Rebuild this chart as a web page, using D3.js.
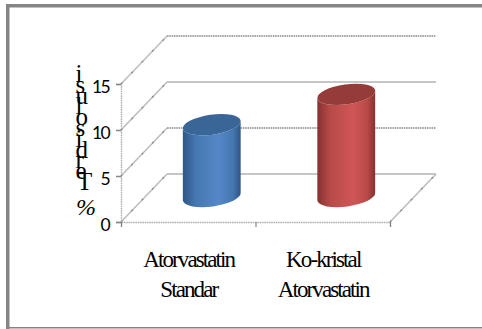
<!DOCTYPE html>
<html>
<head>
<meta charset="utf-8">
<script src="https://cdn.jsdelivr.net/npm/d3@7/dist/d3.min.js"></script>
<style>
html, body { margin: 0; padding: 0; background: #fff; }
svg { display: block; }
.serif { font-family: "Liberation Serif", serif; fill: #000; }
</style>
</head>
<body>
<svg id="chart" width="482" height="329"></svg>
<script>
// Dissolution chart: two 3D cylinders standing on a sheared floor
const categories = [["Atorvastatin", "Standar"], ["Ko-kristal", "Atorvastatin"]];
const seriesValues = [7.8, 11.1];
const seriesFill = [
  { edge: "#2f5687", mid: "#4577b0", peak: "#5588c8", top: "#3a6597" },
  { edge: "#833230", mid: "#b84a48", peak: "#cf5656", top: "#953c3a" }
];
const yTicks = [0, 5, 10, 15];
const titlePrefix = "%";
const titleLetters = "Terdisolusi".split("");

const svg = d3.select("#chart");
const W = 482, H = 329;

// Plot box and depth of the sheared walls
const left = 121, right = 390, bottom = 222, top15 = 84;
const depthX = 46, depthY = 48;

const y = d3.scaleLinear().domain([0, 15]).range([bottom, top15]);
const x = d3.scaleBand().domain(d3.range(categories.length)).range([left, right]);
const edgeScale = d3.scaleLinear().domain([0, categories.length]).range([left, right]);

// Outer frame: heavy top and left edges, thin bottom edge, open on the right
svg.append("rect").attr("x", 6).attr("y", 4).attr("width", W - 6).attr("height", 3.5).attr("fill", "#858585");
svg.append("rect").attr("x", 6).attr("y", 4).attr("width", 3.5).attr("height", H - 4).attr("fill", "#858585");
svg.append("rect").attr("x", 6).attr("y", 327).attr("width", W - 6).attr("height", 1.5).attr("fill", "#858585");

// Grid: diagonal on the side wall, horizontal on the back wall
const grid = svg.append("g").attr("fill", "none");
const diagonal = (x0, y0) => {
  grid.append("path")
    .attr("d", d3.line()([[x0, y0], [x0 + depthX, y0 - depthY]]))
    .attr("stroke", "#bcbcbc").attr("stroke-width", 1.5);
  grid.append("path")
    .attr("d", d3.line()([[x0, y0], [x0 + depthX, y0 - depthY]]))
    .attr("stroke", "#8f8f8f").attr("stroke-width", 1.5).attr("stroke-dasharray", "2 13");
};
yTicks.forEach(t => {
  const solid = t % 10 === 0;
  const backY = y(t) - depthY;
  diagonal(left, y(t));
  grid.append("path")
    .attr("d", d3.line()([[left + depthX, backY], [right + depthX, backY]]))
    .attr("stroke", solid ? "#8e8e8e" : "#a8a8a8")
    .attr("stroke-width", solid ? 1.2 : 2)
    .attr("stroke-dasharray", solid ? null : "1.6 0.7");
});
// Right edge of the floor
diagonal(right, bottom);

// Cylinders
const defs = svg.append("defs");
seriesFill.forEach((c, i) => {
  const g = defs.append("linearGradient").attr("id", "body" + i);
  [[0, c.edge], [0.22, c.mid], [0.62, c.peak], [0.86, c.mid], [1, c.edge]].forEach(([o, col]) =>
    g.append("stop").attr("offset", o).attr("stop-color", col));
});

const rx = 29.2, ry = 10, tilt = -8;
const tiltDx = rx * Math.cos(tilt * Math.PI / 180);
const tiltDy = rx * Math.sin(tilt * Math.PI / 180);
const baseY = y(0) - depthY / 2 - 1.5;

seriesValues.forEach((v, i) => {
  const cx = x(i) + x.bandwidth() / 2 + depthX / 2 + 0.5;
  const topY = baseY - (y(0) - y(v));
  const arc = (sweep, px, py) => `A${rx},${ry} ${tilt} 0 ${sweep} ${px},${py}`;
  const lx = cx - tiltDx, rxPos = cx + tiltDx;
  const body = [
    `M${lx},${topY - tiltDy}`,
    `L${lx},${baseY - tiltDy}`,
    arc(0, rxPos, baseY + tiltDy),
    `L${rxPos},${topY + tiltDy}`,
    arc(1, lx, topY - tiltDy),
    "Z"
  ].join("");
  svg.append("path").attr("d", body).attr("fill", `url(#body${i})`);
  svg.append("ellipse")
    .attr("rx", rx).attr("ry", ry)
    .attr("transform", `translate(${cx},${topY}) rotate(${tilt})`)
    .attr("fill", seriesFill[i].top);
});

// Value axis
const yAxis = svg.append("g")
  .attr("transform", `translate(${left},0)`)
  .call(d3.axisLeft(y).tickValues(yTicks).tickSize(5).tickPadding(7));
yAxis.select(".domain").attr("stroke", "#b0b0b0").attr("stroke-width", 1.4).attr("stroke-dasharray", "1.6 0.7");
yAxis.selectAll(".tick line").attr("stroke", "#868686").attr("stroke-width", 1.5);
yAxis.selectAll(".tick text")
  .attr("font-family", 'Lato, sans-serif').attr("font-size", 17.5)
  .attr("letter-spacing", -1.6).attr("fill", "#000")
  .attr("dy", "0.36em").attr("y", 2.5);

// Category axis: ticks sit on the band edges
const xAxis = svg.append("g")
  .attr("transform", `translate(0,${bottom})`)
  .call(d3.axisBottom(edgeScale).tickValues(d3.range(categories.length + 1)).tickSize(5).tickFormat(""));
xAxis.select(".domain").attr("stroke", "#b0b0b0").attr("stroke-width", 1.4).attr("stroke-dasharray", "1.6 0.7");
xAxis.selectAll(".tick line").attr("stroke", "#868686").attr("stroke-width", 1.2);

// Two-line category labels
categories.forEach((lines, i) => {
  const t = svg.append("text").attr("class", "serif")
    .attr("text-anchor", "middle").attr("font-size", 23).attr("letter-spacing", -1.9);
  lines.forEach((s, k) => {
    t.append("tspan")
      .attr("x", x(i) + x.bandwidth() / 2 + 0.5)
      .attr("y", 267 + k * 30)
      .text(s);
  });
});

// Axis title: upright glyphs stacked bottom to top
const titleY = d3.scalePoint().domain(d3.range(titleLetters.length)).range([190, 82]);
svg.append("g").attr("class", "serif").attr("font-size", 25)
  .selectAll("text").data(titleLetters).join("text")
  .attr("x", d => d === "T" ? 77 : 75.5)
  .attr("y", (d, i) => titleY(i))
  .text(d => d);
svg.append("text").attr("class", "serif")
  .attr("x", 76).attr("y", 215).attr("font-size", 24).attr("font-style", "italic")
  .text(titlePrefix);
</script>
</body>
</html>
